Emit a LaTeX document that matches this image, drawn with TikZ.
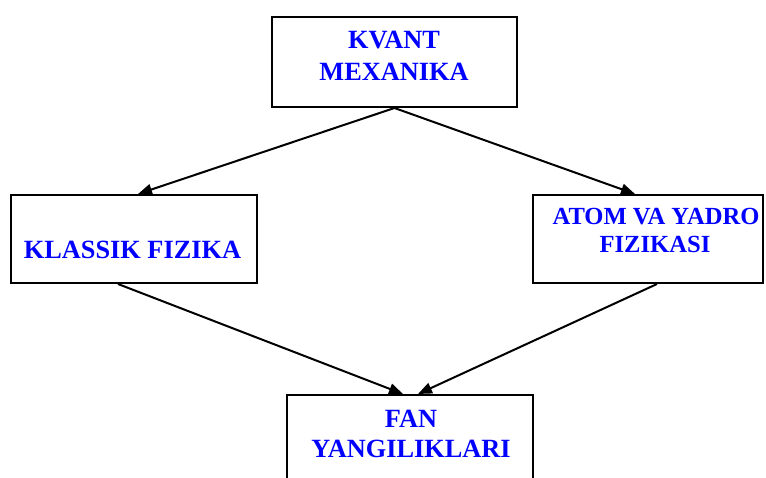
\documentclass[tikz,border=0pt]{standalone}
\usepackage{fontspec}
\setmainfont{Liberation Serif}
\usetikzlibrary{arrows.meta}
\definecolor{txtblue}{RGB}{0,0,255}
\begin{document}
\begin{tikzpicture}[x=1pt,y=-1pt,
  box/.style={draw=black,line width=2pt,rectangle,inner sep=0pt},
  lbl/.style={anchor=base,inner sep=0pt,text=txtblue,font=\fontsize{26.3}{31}\selectfont\bfseries},
  lblsmall/.style={lbl,font=\fontsize{24.6}{28}\selectfont\bfseries},
  conn/.style={line width=2pt,-{Triangle[length=14pt,width=11pt]}}]
\clip (0,0) rectangle (766,478);
\fill[white] (0,0) rectangle (766,478);
% boxes
\node[box,minimum width=245pt,minimum height=90pt] (top) at (394.5,62) {};
\node[box,minimum width=246pt,minimum height=88pt] (left) at (134,239) {};
\node[box,minimum width=230pt,minimum height=88pt] (right) at (648,239) {};
\node[box,minimum width=246pt,minimum height=100pt] (bottom) at (410,445) {};
% texts
\node[lbl] (t1) at (394,48.5) {KVANT};
\node[lbl] (t2) at (394,80.5) {MEXANIKA};
\node[lbl] (l1) at (132.5,258.3) {KLASSIK FIZIKA};
\node[lblsmall] (r1) at (656,225) {ATOM VA YADRO};
\node[lblsmall] (r2) at (655,253) {FIZIKASI};
\node[lbl] (b1) at (411,427) {FAN};
\node[lbl] (b2) at (411,457) {YANGILIKLARI};
% connectors
\draw[conn] (top.south) -- ([xshift=4pt]left.north);
\draw[conn] (top.south) -- ([xshift=-13pt]right.north);
\draw[conn] ([xshift=-16pt]left.south) -- ([xshift=-7pt]bottom.north);
\draw[conn] ([xshift=9pt]right.south) -- ([xshift=8pt]bottom.north);
\end{tikzpicture}
\end{document}
